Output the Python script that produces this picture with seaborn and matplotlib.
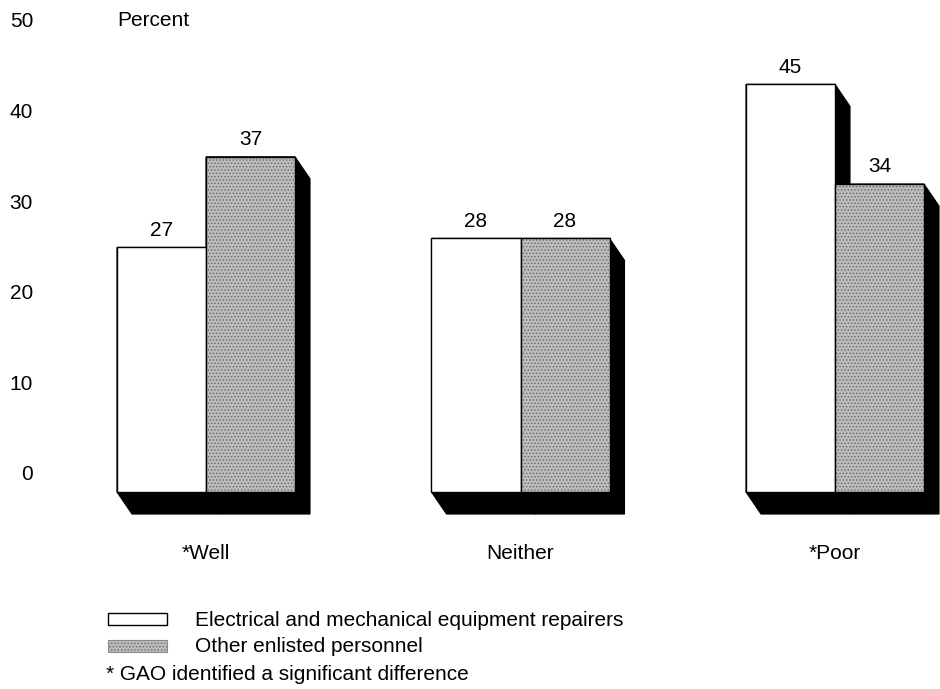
import matplotlib
matplotlib.use("Agg")
import matplotlib.pyplot as plt
from matplotlib.patches import Polygon, Rectangle
import pandas as pd
import seaborn as sns

# Survey responses: how well training prepared personnel (percent)
categories = ["*Well", "Neither", "*Poor"]
groups = ["Electrical and mechanical equipment repairers", "Other enlisted personnel"]
repairers = [27, 28, 45]
other_enlisted = [37, 28, 34]
y_ticks = [0, 10, 20, 30, 40, 50]
footnote = "* GAO identified a significant difference"

df = pd.DataFrame({
    "category": categories * 2,
    "group": [groups[0]] * 3 + [groups[1]] * 3,
    "value": repairers + other_enlisted,
})

sns.set_theme(style="white")
plt.rcParams["font.family"] = ["Liberation Sans", "DejaVu Sans"]
plt.rcParams["text.color"] = "black"
plt.rcParams["xtick.color"] = "black"
plt.rcParams["ytick.color"] = "black"
plt.rcParams["hatch.linewidth"] = 0.6
FS = 15

W_PX, H_PX = 940, 689
fig = plt.figure(figsize=(W_PX / 100, H_PX / 100), dpi=100)

# axes frame in pixels: left, top, right, bottom
ax_l, ax_t, ax_r, ax_b = 40, 5, 940, 530
ax = fig.add_axes([ax_l / W_PX, 1 - ax_b / H_PX, (ax_r - ax_l) / W_PX, (ax_b - ax_t) / H_PX])

WHITE = "#ffffff"
GRAY = "#bcbcbc"
sns.barplot(data=df, x="category", y="value", hue="group", order=categories,
            hue_order=groups, palette=[WHITE, GRAY], saturation=1, width=0.566,
            errorbar=None, edgecolor="black", linewidth=1.0, legend=False, ax=ax)

# pixel scale of the category and value axes
px_per_cat = 314.5
px_per_unit = 9.06
ax.set_xlim((ax_l - 206) / px_per_cat, (ax_r - 206) / px_per_cat)
ax.set_ylim(-(ax_b - 473) / px_per_unit, (473 - ax_t) / px_per_unit)

# 3-D look: front faces sit slightly below the baseline, extruded to the lower right
base_shift = -2.1
dx = 15 / px_per_cat
dy = 22 / px_per_unit

bars = sorted(ax.patches, key=lambda p: p.get_x())
for i, p in enumerate(bars):
    p.set_y(base_shift)
    p.set_zorder(3)
    x0, w, h = p.get_x(), p.get_width(), p.get_height()
    y0, y1, x1 = base_shift, base_shift + h, x0 + w
    shadow = Polygon([(x0, y1), (x1, y1), (x1 + dx, y1 - dy), (x1 + dx, y0 - dy),
                      (x0 + dx, y0 - dy), (x0, y0)], closed=True,
                     facecolor="black", edgecolor="black", lw=0.8, zorder=2)
    ax.add_patch(shadow)
    if i % 2 == 1:
        # stippled fill for the second group
        p.set_hatch(".....")
        p.set_edgecolor("#666666")
        p.set_linewidth(0)
        ax.add_patch(Rectangle((x0, y0), w, h, fill=False, edgecolor="black",
                               lw=1.0, zorder=4))
    ax.text(x0 + w / 2, y1 + 1.3, f"{int(round(h))}", ha="center", va="baseline",
            fontsize=FS, color="black", zorder=5)

ax.set_yticks(y_ticks)
ax.set_yticklabels([str(t) for t in y_ticks], fontsize=FS)
ax.set_xlabel("")
ax.set_ylabel("")
ax.tick_params(axis="both", length=0, colors="black")
ax.tick_params(axis="y", pad=5)
ax.tick_params(axis="x", pad=10, labelsize=FS)
for s in ax.spines.values():
    s.set_visible(False)

fig.text(117 / W_PX, 1 - 20 / H_PX, "Percent", ha="left", va="center", fontsize=FS)

# legend drawn as figure-level swatches
def fig_rect(x, y, w, h, **kw):
    return Rectangle((x / W_PX, 1 - (y + h) / H_PX), w / W_PX, h / H_PX,
                     transform=fig.transFigure, **kw)

fig.patches.append(fig_rect(108, 613, 59, 12, facecolor=WHITE, edgecolor="black", lw=1.0))
fig.patches.append(fig_rect(108, 640, 59, 12, facecolor=GRAY, edgecolor="#666666",
                            lw=0, hatch="....."))
fig.patches.append(fig_rect(108, 640, 59, 12, fill=False, edgecolor="#8a8a8a", lw=0.8))
fig.text(195 / W_PX, 1 - 620 / H_PX, groups[0], ha="left", va="center", fontsize=FS)
fig.text(195 / W_PX, 1 - 646 / H_PX, groups[1], ha="left", va="center", fontsize=FS)
fig.text(106 / W_PX, 1 - 675 / H_PX, footnote, ha="left", va="center", fontsize=FS)

fig.savefig("out.png", dpi=100, facecolor="white")
